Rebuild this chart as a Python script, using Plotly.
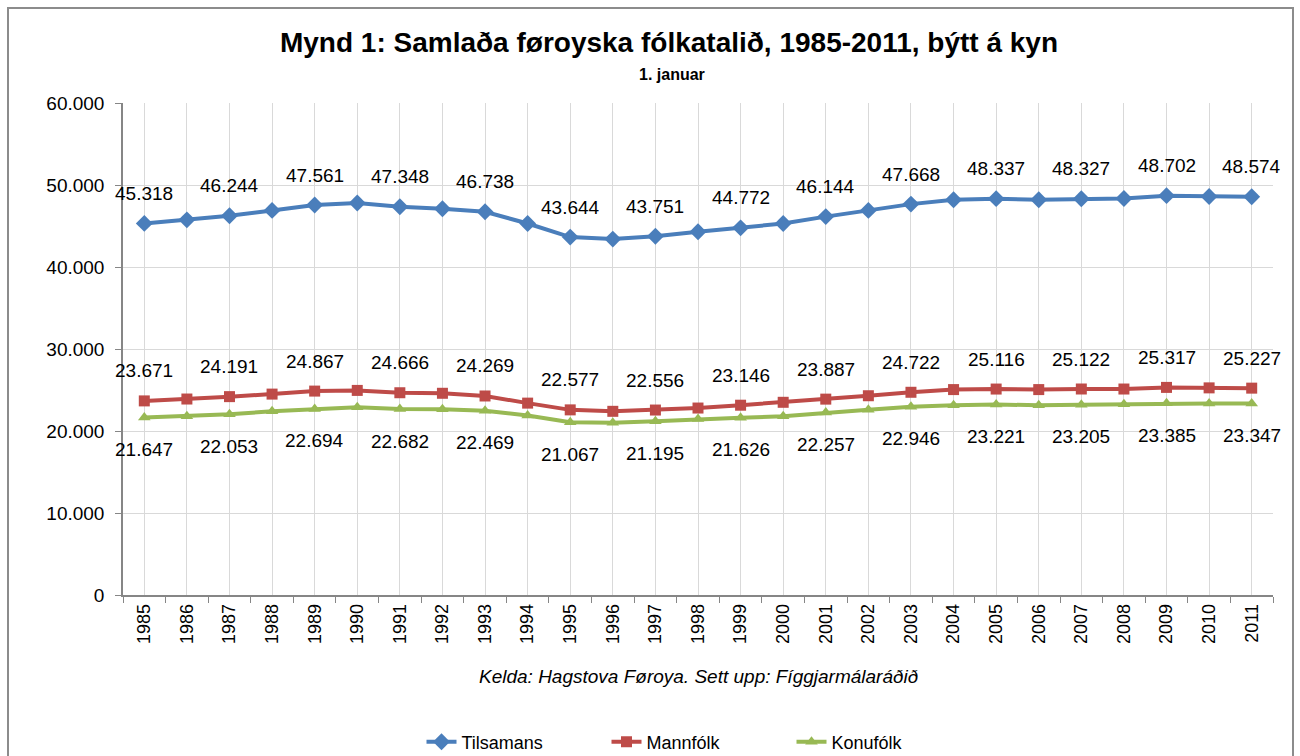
import plotly.graph_objects as go

years = list(range(1985, 2012))
tilsamans = [45318, 45750, 46244, 46900, 47561, 47800, 47348, 47100, 46738, 45300,
             43644, 43400, 43751, 44300, 44772, 45300, 46144, 46900, 47668, 48200,
             48337, 48200, 48327, 48350, 48702, 48600, 48574]
mannfolk = [23671, 23900, 24191, 24500, 24867, 24950, 24666, 24600, 24269, 23400,
            22577, 22400, 22556, 22800, 23146, 23500, 23887, 24300, 24722, 25050,
            25116, 25050, 25122, 25120, 25317, 25260, 25227]
konufolk = [21647, 21800, 22053, 22400, 22694, 22900, 22682, 22650, 22469, 21900,
            21067, 21000, 21195, 21450, 21626, 21800, 22257, 22600, 22946, 23150,
            23221, 23150, 23205, 23250, 23385, 23350, 23347]
y_ticks = [0, 10000, 20000, 30000, 40000, 50000, 60000]
y_ticklabels = ["0", "10.000", "20.000", "30.000", "40.000", "50.000", "60.000"]

FONT = "Liberation Sans, Arial, sans-serif"


def fmt(v):
    return f"{v:,}".replace(",", ".")


series = [
    ("Tilsamans", tilsamans, "#4A7EBB", "diamond", 13, 30),
    ("Mannfólk", mannfolk, "#BE4B48", "square", 11, 30),
    ("Konufólk", konufolk, "#98B954", "triangle-up", 11, -32),
]

# plot area in pixels: x 123..1273, y 103..595
L, R, T, B = 123, 1273, 103, 595
PW, PH = R - L, B - T


def px(x):
    return (x - L) / PW


def py(y):
    return (B - y) / PH


fig = go.Figure()
annotations = []
for name, vals, col, sym, msize, shift in series:
    fig.add_trace(go.Scatter(
        x=years, y=vals, name=name, mode="lines+markers",
        line=dict(color=col, width=4),
        marker=dict(symbol=sym, size=msize, color=col),
    ))
    for yr, v in zip(years, vals):
        if yr % 2 == 1:
            annotations.append(dict(
                x=yr, y=v, xref="x", yref="y", text=fmt(v), showarrow=False,
                yshift=shift, font=dict(size=19, color="#000000", family=FONT)))

annotations.append(dict(
    text="<b>1. januar</b>", xref="paper", yref="paper",
    x=px(672), y=py(74), xanchor="center", yanchor="middle",
    showarrow=False, font=dict(size=16, color="#000000")))
annotations.append(dict(
    text="<i>Kelda: Hagstova Føroya. Sett upp: Fíggjarmálaráðið</i>",
    xref="paper", yref="paper",
    x=px(698), y=py(676), xanchor="center", yanchor="middle",
    showarrow=False, font=dict(size=19, color="#000000")))

fig.update_layout(
    width=1300, height=756,
    margin=dict(l=L, r=1300 - R, t=T, b=756 - B, autoexpand=False),
    paper_bgcolor="white", plot_bgcolor="white",
    font=dict(family=FONT, color="#000000"),
    title=dict(
        text="<b>Mynd 1: Samlaða føroyska fólkatalið, 1985-2011, býtt á kyn</b>",
        xref="container", yref="container", x=669 / 1300, y=1 - 42 / 756,
        xanchor="center", yanchor="middle",
        font=dict(size=28, color="#000000")),
    xaxis=dict(
        range=[1984.5, 2011.5], tickmode="array", tickvals=years,
        ticktext=[str(y) for y in years], tickangle=-90,
        tickfont=dict(size=18), showgrid=True, gridcolor="#D9D9D9", gridwidth=1,
        ticks="", showline=True, linecolor="#868686", linewidth=1.5,
        zeroline=False,
        minor=dict(tickmode="array", tickvals=[y - 0.5 for y in years] + [2011.5],
                   ticks="outside", ticklen=6, tickcolor="#868686", showgrid=False),
    ),
    yaxis=dict(
        range=[0, 60000], tickmode="array", tickvals=y_ticks, ticktext=y_ticklabels,
        tickfont=dict(size=19), showgrid=True, gridcolor="#D9D9D9", gridwidth=1,
        ticks="outside", ticklen=6, tickcolor="#868686", ticklabelstandoff=7,
        showline=True, linecolor="#868686", linewidth=1.5, zeroline=False,
    ),
    legend=dict(
        orientation="h", xref="container", yref="container",
        x=699 / 1300, y=(756 - 742) / 756,
        xanchor="center", yanchor="middle", font=dict(size=18),
        entrywidth=140, bgcolor="rgba(0,0,0,0)",
    ),
    annotations=annotations,
    shapes=[dict(type="rect", xref="paper", yref="paper",
                 x0=px(8), x1=px(1293), y0=py(770), y1=py(8),
                 line=dict(color="#8C8C8C", width=2), fillcolor="rgba(0,0,0,0)",
                 layer="below")],
)

fig.write_html("out.html", config={"displayModeBar": False},
               post_script="document.body.style.margin='0';document.body.style.overflow='hidden';")
